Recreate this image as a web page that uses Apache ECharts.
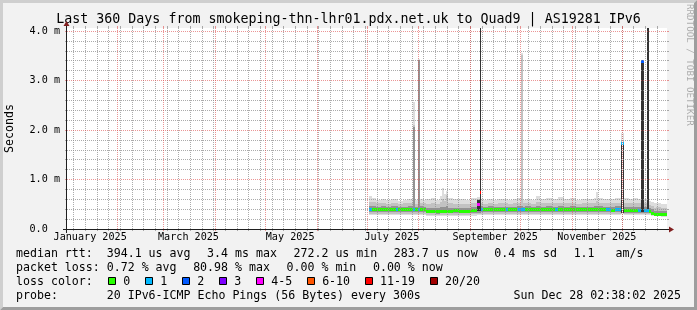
<!DOCTYPE html>
<html><head><meta charset="utf-8">
<script src="https://cdn.jsdelivr.net/npm/echarts@6/dist/echarts.min.js"></script>
<style>html,body{margin:0;padding:0;background:#f2f2f2;}#c{width:697px;height:310px;}</style>
</head><body><div id="c"></div>
<script>
// ---------------- data ----------------
const titleText = 'Last 360 Days from smokeping-thn-lhr01.pdx.net.uk to Quad9 | AS19281 IPv6';
const unitLabel = 'Seconds';
const endTime = '2025-12-28T02:38:02Z';
const spanDays = 360;
const monthTicks = ['2025-02-01','2025-03-01','2025-04-01','2025-05-01','2025-06-01','2025-07-01',
  '2025-08-01','2025-09-01','2025-10-01','2025-11-01','2025-12-01'];
const monthLabelDates = ['2025-01-16','2025-03-16','2025-05-16','2025-07-16','2025-09-16','2025-11-16'];
const monthLabels = ['January 2025','March 2025','May 2025','July 2025','September 2025','November 2025'];
const firstMonday = '2025-01-06';
const yTicks = [0, 1, 2, 3, 4];
const yLabels = ['0.0  ', '1.0 m', '2.0 m', '3.0 m', '4.0 m'];
const yMinor = [0.2,0.4,0.6,0.8,1.2,1.4,1.6,1.8,2.2,2.4,2.6,2.8,3.2,3.4,3.6,3.8];
const yMax = 4.06;

// segments: start day of year 2025 (UTC); values in ms (milliseconds of rtt)
const segDay = [182.4,184.2,186.6,189.6,192.6,195.6,198.3,199.8,202.8,205.8,208.6,209.9,211.5,212.9,214.8,
  216.6,219.6,222.6,224.8,226.0,227.2,228.4,229.6,232.6,236.2,239.8,243.4,246.9,248.7,249.3,
  250.6,253.6,256.6,259.6,262.6,264.4,265.6,268.6,271.0,273.5,274.5,275.8,279.4,282.4,284.8,288.4,292.0,293.8,295.6,
  299.2,302.8,306.4,310.0,313.6,317.2,318.4,319.6,322.6,324.4,327.4,329.8,333.7,334.4,335.0,
  335.6,338.6,341.6,344.0,345.7,347.3,349.1,350.3,351.7,353.3,354.7,357.7];
const smokeMinLo = [.28,.28,.28,.28,.28,.28,.28,.28,.28,.28,.28,.28,.28,.28,.28,
  .26,.26,.26,.26,.26,.26,.26,.26,.26,.26,.26,.27,.28,.28,.28,
  .28,.28,.28,.28,.28,.28,.28,.28,.28,.28,.28,.28,.28,.28,.28,.28,.28,.28,.28,
  .28,.28,.28,.28,.28,.28,.28,.28,.28,.28,.28,.28,.30,null,.30,
  .28,.28,.28,.28,.28,.28,.28,.28,.27,.26,.26,.25];
const smokeMaxHi = [.66,.63,.59,.61,.58,.60,.60,.57,.59,.61,2.57,.58,3.43,.60,.59,
  .60,.62,.59,.66,.83,.70,.76,.62,.60,.61,.59,.62,.64,4.10,.60,
  .58,.60,.59,.61,.60,.60,.58,.60,.62,3.55,.59,.61,.58,.66,.60,.62,.60,.61,.64,
  .60,.62,.59,.61,.60,.63,.74,.62,.60,.61,.60,.62,1.94,null,1.94,
  .62,.60,.63,.60,3.40,.60,4.10,.56,.55,.52,.53,.50];
const smokeMidLo = [.31,.31,.31,.31,.31,.31,.31,.31,.31,.31,.31,.31,.31,.31,.31,
  .29,.29,.29,.29,.29,.29,.29,.29,.29,.29,.29,.30,.30,.30,.31,
  .31,.31,.31,.31,.31,.31,.31,.31,.31,.31,.31,.31,.31,.31,.31,.31,.31,.31,.31,
  .31,.31,.31,.31,.31,.31,.31,.31,.31,.31,.31,.31,.31,null,.31,
  .31,.31,.31,.31,.31,.31,.31,.31,.28,.27,.27,.27];
const smokeMidHi = [.55,.54,.52,.53,.51,.52,.53,.51,.52,.53,2.10,.51,3.42,.52,.52,
  .50,.52,.50,.55,.60,.57,.69,.52,.50,.51,.50,.52,.60,4.10,.52,
  .51,.52,.51,.52,.52,.52,.50,.52,.53,3.52,.52,.53,.51,.55,.52,.53,.52,.52,.53,
  .52,.53,.51,.52,.52,.53,.56,.53,.52,.52,.52,.53,1.80,null,1.80,
  .52,.52,.53,.52,3.39,.52,4.10,.48,.46,.43,.44,.42];
const smokeCoreLo = [.35,.35,.35,.35,.35,.35,.35,.35,.35,.35,.35,.35,.35,.35,.35,
  .32,.32,.31,.32,.32,.32,.32,.32,.32,.32,.32,.33,.33,.33,.34,
  .34,.34,.34,.34,.34,.34,.34,.34,.34,.34,.34,.34,.34,.34,.34,.34,.34,.34,.34,
  .34,.34,.34,.34,.34,.34,.34,.34,.34,.34,.34,.34,.33,null,.33,
  .33,.33,.33,.33,.33,.33,.33,.33,.29,.28,.28,.28];
const smokeCoreHi = [.46,.46,.45,.46,.45,.46,.46,.45,.45,.46,2.07,.45,3.41,.46,.45,
  .43,.43,.42,.44,.45,.44,.46,.43,.43,.43,.42,.44,.58,4.10,.46,
  .45,.46,.45,.45,.45,.45,.45,.45,.46,.46,.45,.46,.45,.46,.45,.46,.45,.45,.46,
  .45,.46,.45,.45,.45,.46,.46,.46,.45,.45,.45,.46,1.74,null,1.74,
  .44,.44,.44,.44,3.38,.44,4.10,.42,.40,.36,.37,.36];
const medianRtt = [.40,.40,.40,.40,.40,.40,.40,.40,.40,.40,.40,.40,.40,.40,.39,
  .36,.36,.35,.36,.36,.36,.36,.36,.37,.36,.36,.37,.50,.73,.39,
  .39,.39,.39,.39,.39,.39,.39,.39,.39,.39,.39,.39,.39,.39,.39,.39,.39,.39,.39,
  .39,.39,.39,.39,.39,.39,.39,.39,.39,.39,.38,.39,1.72,null,1.72,
  .37,.37,.37,.37,3.38,.37,.37,.36,.32,.30,.30,.30];
const lostPings = [1,0,0,0,0,0,1,0,0,0,1,0,1,0,0,
  0,0,0,0,0,0,0,0,0,0,0,0,5,15,1,
  0,0,0,0,0,1,0,0,1,1,1,0,0,0,0,0,0,1,0,
  0,0,0,0,0,0,0,0,0,1,0,1,1,null,1,
  0,0,0,1,2,1,1,0,0,0,0,0];
// dark columns (inner-most smoke band) of the outlier periods
const darkStart = [246.9, 248.7, 333.7, 335.0, 345.7, 349.1];
const darkEnd   = [248.7, 249.3, 334.4, 335.6, 347.3, 350.3];
const darkLo    = [0.36, 0.36, 0.33, 0.33, 0.34, 0.34];
const darkHi    = [0.58, 4.10, 1.72, 1.72, 3.38, 4.10];

const lossBins = ['0','1','2','3','4-5','6-10','11-19','20/20'];
const lossUpper = [0, 1, 2, 3, 5, 10, 19, 20];
const lossColors = ['#26ff00','#00b8ff','#0059ff','#7e00ff','#ff00ff','#ff5500','#ff0000','#a10000'];

const legendRow1 = ['median rtt:  394.1 us avg','3.4 ms max','272.2 us min','283.7 us now','0.4 ms sd','1.1   am/s'];
const legendRow2 = ['packet loss: 0.72 % avg','80.98 % max','0.00 % min','0.00 % now'];
const lossTitle = 'loss color:';
const probeLabel = 'probe:';
const probeText = '20 IPv6-ICMP Echo Pings (56 Bytes) every 300s';
const stampText = 'Sun Dec 28 02:38:02 2025';
const watermark = 'RRDTOOL / TOBI OETIKER';

// ---------------- build ----------------
const DAY = 86400000;
const endMs = Date.parse(endTime);
const startMs = endMs - spanDays * DAY;
const yearMs = Date.UTC(2025, 0, 1);
const dayMs = d => yearMs + d * DAY;
const parseDay = s => Date.parse(s + 'T00:00:00Z');
const monthMs = monthTicks.map(parseDay);
const labelMs = monthLabelDates.map(parseDay);
const weekMs = [];
for (let t = parseDay(firstMonday); t < endMs; t += 7 * DAY) if (t > startMs) weekMs.push(t);

function bandData(lo, hi) {
  const out = [];
  for (let i = 0; i < segDay.length; i++) {
    if (lo[i] == null) continue;
    const t1 = i + 1 < segDay.length ? dayMs(segDay[i + 1]) : endMs;
    out.push([dayMs(segDay[i]), t1, lo[i], hi[i]]);
  }
  return out;
}
const medData = [];
for (let i = 0; i < segDay.length; i++) {
  if (medianRtt[i] == null) continue;
  const t1 = i + 1 < segDay.length ? dayMs(segDay[i + 1]) : endMs;
  medData.push([dayMs(segDay[i]), t1, medianRtt[i], lostPings[i]]);
}
const darkData = darkStart.map((d, i) => [dayMs(d), dayMs(darkEnd[i]), darkLo[i], darkHi[i]]);

function lossColor(n) {
  for (let k = 0; k < lossUpper.length; k++) if (n <= lossUpper[k]) return lossColors[k];
  return lossColors[lossColors.length - 1];
}
function rectItem(fill) {
  return function (params, api) {
    const a = api.coord([api.value(0), api.value(3)]);
    const b = api.coord([api.value(1), api.value(2)]);
    const x0 = Math.round(a[0]);
    const x1 = Math.max(Math.round(b[0]), x0 + 1);
    const y0 = Math.round(a[1]);
    const y1 = Math.max(Math.round(b[1]), y0 + 1);
    return { type: 'rect', shape: { x: x0, y: y0, width: x1 - x0, height: y1 - y0 }, style: { fill: fill } };
  };
}
function medItem(params, api) {
  const a = api.coord([api.value(0), api.value(2)]);
  const b = api.coord([api.value(1), api.value(2)]);
  const x0 = Math.round(a[0]);
  const x1 = Math.max(Math.round(b[0]), x0 + 1);
  return { type: 'rect', shape: { x: x0, y: Math.round(a[1] - 1.5), width: x1 - x0, height: 3 },
           style: { fill: lossColor(api.value(3)) } };
}

const MONO = 'DejaVu Sans Mono';
const GRID = { left: 67, top: 28, width: 600, height: 201 };
const gridGray = 'rgba(143,143,143,0.75)';
const gridRed = 'rgba(222,79,79,0.6)';
const dash = 'dotted';
const axisFont = 10.15, legFont = 11.6;

function xAx(extra) {
  return Object.assign({ type: 'value', min: startMs, max: endMs, gridIndex: 0,
    axisLine: { show: false, onZero: false }, axisLabel: { show: false },
    axisTick: { show: false }, splitLine: { show: false } }, extra);
}
function yAx(extra) {
  return Object.assign({ type: 'value', min: 0, max: yMax, gridIndex: 0,
    axisLine: { show: false, onZero: false }, axisLabel: { show: false },
    axisTick: { show: false }, splitLine: { show: false } }, extra);
}
const series = [];
function band(fill, lo, hi) {
  series.push({ type: 'custom', xAxisIndex: 1, yAxisIndex: 1, renderItem: rectItem(fill),
    data: bandData(lo, hi), clip: true, silent: true, z: 2, encode: { x: [0, 1], y: [2, 3] } });
}
band('#dddddd', smokeMinLo, smokeMaxHi);
band('#c2c2c2', smokeMidLo, smokeMidHi);
band('#939393', smokeCoreLo, smokeCoreHi);
series.push({ type: 'custom', xAxisIndex: 1, yAxisIndex: 1, renderItem: rectItem('#333333'),
  data: darkData, clip: true, silent: true, z: 2, encode: { x: [0, 1], y: [2, 3] } });
series.push({ type: 'custom', xAxisIndex: 1, yAxisIndex: 1, renderItem: medItem,
  data: medData, clip: true, silent: true, z: 2, encode: { x: [0, 1], y: 2 } });

// ---------- legend / decorations ----------
const ctx = document.createElement('canvas').getContext('2d');
ctx.font = legFont + 'px "' + MONO + '"';
const tw = s => ctx.measureText(s).width;
const graphic = [];
const txt = (s, x, y, extra) => graphic.push(Object.assign({ type: 'text', x: x, y: y, z: 20, silent: true,
  style: Object.assign({ text: s, fill: '#000', font: legFont + 'px "' + MONO + '"', align: 'left', verticalAlign: 'middle' }, extra || {}) }));
const W = 697, H = 310, B = 3;
// 3d border
graphic.push({ type: 'polygon', z: 1, silent: true, shape: { points: [[0, H], [B, H - B], [B, B], [W - B, B], [W, 0], [0, 0]] }, style: { fill: '#cfcfcf' } });
graphic.push({ type: 'polygon', z: 1, silent: true, shape: { points: [[B, H - B], [W - B, H - B], [W - B, B], [W, 0], [W, H], [0, H]] }, style: { fill: '#9e9e9e' } });
// axes lines + arrows
const X0 = GRID.left, Y0 = GRID.top + GRID.height, X1 = GRID.left + GRID.width, YT = GRID.top;
graphic.push({ type: 'line', z: 15, silent: true, shape: { x1: X0 - 4, y1: Y0 + 0.5, x2: X1 + 4, y2: Y0 + 0.5 }, style: { stroke: '#1f1f1f', lineWidth: 1 } });
graphic.push({ type: 'line', z: 15, silent: true, shape: { x1: X0 - 0.5, y1: Y0 + 4, x2: X0 - 0.5, y2: YT - 4 }, style: { stroke: '#1f1f1f', lineWidth: 1 } });
graphic.push({ type: 'polygon', z: 16, silent: true, shape: { points: [[X1 + 2, Y0 - 2.5], [X1 + 2, Y0 + 3.5], [X1 + 7, Y0 + 0.5]] }, style: { fill: '#801f1f' } });
graphic.push({ type: 'polygon', z: 16, silent: true, shape: { points: [[X0 - 3.5, YT - 2], [X0 + 2.5, YT - 2], [X0 - 0.5, YT - 7]] }, style: { fill: '#801f1f' } });
// unit label
graphic.push({ type: 'text', x: 10, y: (YT + Y0) / 2, rotation: Math.PI / 2, z: 20, silent: true,
  style: { text: unitLabel, fill: '#000', font: legFont + 'px "' + MONO + '"', align: 'center', verticalAlign: 'middle' } });
// watermark
graphic.push({ type: 'text', x: 689.2, y: 4, rotation: -Math.PI / 2, z: 20, silent: true,
  style: { text: watermark, fill: 'rgba(0,0,0,0.3)', font: '9.2px "' + MONO + '"', align: 'left', verticalAlign: 'middle' } });
// legend rows
const rowY = [253.5, 267.5, 281.5, 295.5];
const L = 16, GAP = 16.6;
let x = L;
legendRow1.forEach(s => { txt(s, x, rowY[0]); x += tw(s) + GAP; });
x = L;
legendRow2.forEach(s => { txt(s, x, rowY[1]); x += tw(s) + GAP; });
txt(lossTitle, L, rowY[2]);
x = L + tw(lossTitle) + 15.5;
lossBins.forEach((s, k) => {
  graphic.push({ type: 'rect', z: 20, silent: true, shape: { x: Math.round(x) + 0.5, y: 277.5, width: 7, height: 7 },
    style: { fill: lossColors[k], stroke: '#000', lineWidth: 1 } });
  txt(s, x + 15, rowY[2]);
  x += 15 + tw(s) + 15;
});
txt(probeLabel, L, rowY[3]);
txt(probeText, L + tw(probeLabel + '       '), rowY[3]);
txt(stampText, 681, rowY[3], { align: 'right' });

const option = {
  animation: false,
  backgroundColor: '#f2f2f2',
  title: { text: titleText, left: 'center', top: 13, padding: 0,
    textStyle: { fontFamily: MONO, fontSize: 13.3, fontWeight: 'normal', color: '#000', lineHeight: 14 } },
  grid: Object.assign({ show: true, backgroundColor: '#ffffff', borderWidth: 0, containLabel: false }, GRID),
  xAxis: [
    xAx({ position: 'bottom', z: 3, axisTick: { show: true, customValues: weekMs, length: 2, lineStyle: { color: gridGray } },
      splitLine: { show: true, lineStyle: { color: gridGray, type: dash, width: 1 } } }),
    xAx({ position: 'bottom', z: 4, axisTick: { show: true, customValues: monthMs, length: 2, lineStyle: { color: gridRed } },
      splitLine: { show: true, lineStyle: { color: gridRed, type: dash, width: 1 } },
      axisLabel: { show: true, customValues: labelMs, margin: 3, fontFamily: MONO, fontSize: axisFont, color: '#000',
        formatter: v => { const i = labelMs.indexOf(v); return i >= 0 ? monthLabels[i] : ''; } } }),
    xAx({ position: 'top', z: 3, axisTick: { show: true, customValues: weekMs, length: 2, lineStyle: { color: gridGray } } }),
    xAx({ position: 'top', z: 4, axisTick: { show: true, customValues: monthMs, length: 2, lineStyle: { color: gridRed } } })
  ],
  yAxis: [
    yAx({ position: 'left', z: 3, axisTick: { show: true, customValues: yMinor, length: 2, lineStyle: { color: gridGray } },
      splitLine: { show: true, lineStyle: { color: gridGray, type: dash, width: 1 } } }),
    yAx({ position: 'left', z: 4, axisTick: { show: true, customValues: yTicks, length: 2, lineStyle: { color: gridRed } },
      splitLine: { show: true, lineStyle: { color: gridRed, type: dash, width: 1 } },
      axisLabel: { show: true, customValues: yTicks, margin: 7, fontFamily: MONO, fontSize: axisFont, color: '#000',
        formatter: v => { const i = yTicks.indexOf(v); return i >= 0 ? yLabels[i] : ''; } } }),
    yAx({ position: 'right', z: 3, axisTick: { show: true, customValues: yMinor, length: 2, lineStyle: { color: gridGray } } }),
    yAx({ position: 'right', z: 4, axisTick: { show: true, customValues: yTicks, length: 2, lineStyle: { color: gridRed } } })
  ],
  series: series,
  graphic: graphic
};
const chart = echarts.init(document.getElementById('c'), null, { renderer: 'canvas', width: 697, height: 310 });
chart.setOption(option);
</script></body></html>
